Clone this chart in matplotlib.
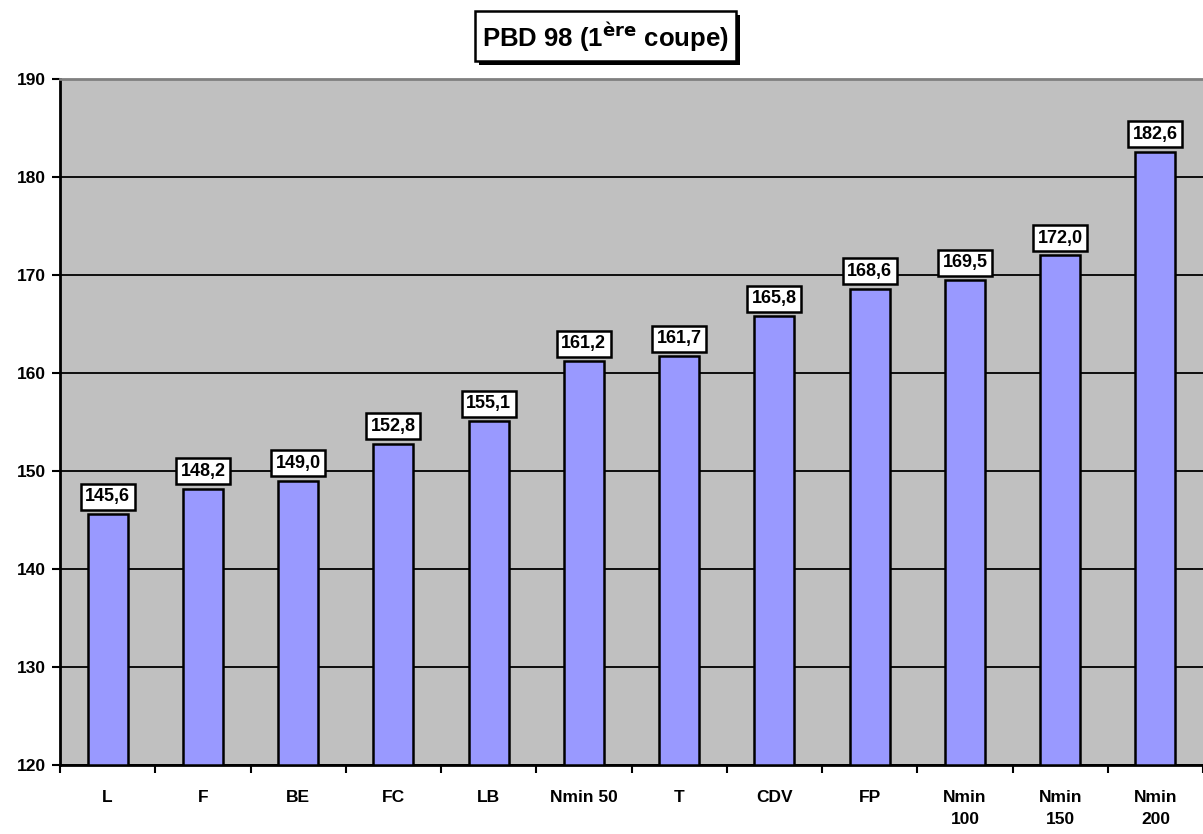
import matplotlib
matplotlib.use("Agg")
import matplotlib.pyplot as plt
import numpy as np

plt.rcParams['font.family'] = ['Liberation Sans', 'DejaVu Sans']

# data
categories = ["L", "F", "BE", "FC", "LB", "Nmin 50", "T", "CDV", "FP",
              "Nmin\n100", "Nmin\n150", "Nmin\n200"]
values = [145.6, 148.2, 149.0, 152.8, 155.1, 161.2, 161.7, 165.8, 168.6,
          169.5, 172.0, 182.6]
value_labels = ["145,6", "148,2", "149,0", "152,8", "155,1", "161,2", "161,7",
                "165,8", "168,6", "169,5", "172,0", "182,6"]
yticks = [120, 130, 140, 150, 160, 170, 180, 190]

W, H = 1203, 834
fig = plt.figure(figsize=(W / 100, H / 100), dpi=100)
ax = fig.add_axes([60 / W, 1 - 765 / H, 1 - 60 / W, (765 - 79) / H])
ax.set_facecolor("#c0c0c0")

x = np.arange(len(categories))
ax.bar(x, np.array(values) - 120, bottom=120, width=0.42, color="#9999ff",
       edgecolor="black", linewidth=1.8, zorder=3)

ax.set_ylim(120, 190)
ax.set_xlim(-0.5, len(categories) - 0.5)
ax.set_yticks(yticks)
ax.set_yticklabels([str(t) for t in yticks], fontsize=12.5, fontweight="bold")
ax.yaxis.grid(True, color="black", linewidth=1.3, zorder=1)

# ticks between categories, labels at centres
ax.set_xticks(np.arange(len(categories) + 1) - 0.5)
ax.set_xticklabels([])
ax.set_xticks(x, minor=True)
ax.set_xticklabels(categories, minor=True, fontsize=12.5, fontweight="bold",
                   va="top", linespacing=1.6)
ax.tick_params(axis="x", which="minor", length=0, pad=18)
ax.tick_params(axis="x", which="major", length=6, width=1.5, direction="out")
ax.tick_params(axis="y", length=6, width=1.5, direction="out", pad=4)

for s in ["left", "bottom"]:
    ax.spines[s].set_linewidth(2)
    ax.spines[s].set_color("black")
ax.spines["top"].set_color("#808080")
ax.spines["top"].set_linewidth(2)
ax.spines["right"].set_visible(False)

for xi, v, lab in zip(x, values, value_labels):
    ax.annotate(lab, (xi, v), xytext=(0, 12.5), textcoords="offset points",
                ha="center", va="center", fontsize=13, fontweight="bold",
                bbox=dict(boxstyle="square,pad=0.25", fc="white", ec="black", lw=1.8),
                zorder=5)

# title box with drop shadow
fig.patches.append(plt.Rectangle((479 / W, 1 - 65 / H), 261 / W, 50 / H,
                                 transform=fig.transFigure, fc="black", ec="none"))
fig.patches.append(plt.Rectangle((475 / W, 1 - 61 / H), 261 / W, 50 / H,
                                 transform=fig.transFigure, fc="white",
                                 ec="black", lw=1.8))
fig.text(605.5 / W, 1 - 37 / H, "PBD 98 (1$^{\\mathbf{\u00e8re}}$ coupe)",
         ha="center", va="center", fontsize=18.5, fontweight="bold")

fig.savefig("out.png", dpi=100)
